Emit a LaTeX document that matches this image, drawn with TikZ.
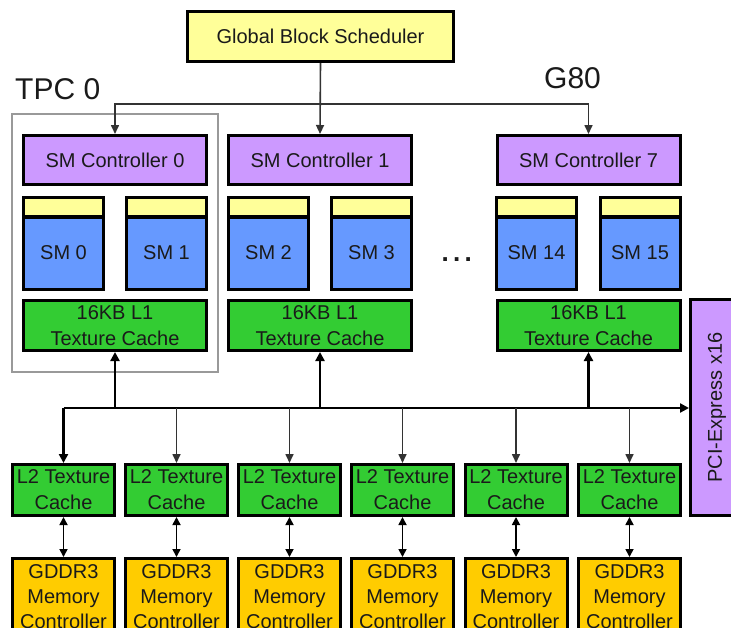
\documentclass[tikz,border=0pt]{standalone}
\usepackage{fontspec}
\setmainfont{Liberation Sans}
\usetikzlibrary{arrows.meta}
\definecolor{schedY}{HTML}{FFFF99}
\definecolor{ctrlP}{HTML}{CC99FF}
\definecolor{smB}{HTML}{6699FF}
\definecolor{cacheG}{HTML}{33CC33}
\definecolor{memO}{HTML}{FFCC00}
\definecolor{txt}{HTML}{1A1A1A}
\definecolor{lineG}{HTML}{333333}
\tikzset{
  box/.style={draw=black, line width=3pt, inner sep=0pt, text=txt, align=center,
    font=\fontsize{20}{26}\selectfont},
  sched/.style={box, fill=schedY, minimum width=266pt, minimum height=50pt},
  smc/.style={box, fill=ctrlP, minimum width=183pt, minimum height=49pt},
  smtop/.style={box, fill=schedY, minimum width=80pt, minimum height=19pt},
  smbody/.style={box, fill=smB, minimum width=80pt, minimum height=72pt},
  lone/.style={box, fill=cacheG, minimum width=183pt, minimum height=50pt},
  ltwo/.style={box, fill=cacheG, minimum width=102pt, minimum height=51pt},
  memc/.style={box, fill=memO, minimum width=102pt, anchor=north, inner ysep=6pt,
    font=\fontsize{20}{25}\selectfont},
  pcibox/.style={box, fill=ctrlP, minimum width=53pt, minimum height=216pt},
  conn/.style={draw=lineG, line width=1.6pt, -{Triangle[length=9pt,width=8pt]}},
  bus/.style={draw=black, line width=2.4pt},
  busarrow/.style={bus, -{Triangle[length=9pt,width=9pt]}},
  dbl/.style={draw=black, line width=1.7pt, {Triangle[length=8pt,width=8pt]}-{Triangle[length=8pt,width=8pt]}},
  biglabel/.style={inner sep=0pt, anchor=base west, text=txt, font=\fontsize{30}{36}\selectfont},
}
\begin{document}
\begin{tikzpicture}[x=1pt,y=-1pt]
\useasboundingbox (0,0) rectangle (731,627);
\clip (0,0) rectangle (731,627);
% labels
\node[biglabel] (tpclabel) at (15,99) {TPC 0};
\node[biglabel] (g80label) at (544,88) {G80};
% TPC frame
\draw[draw=gray!80, line width=1.2pt] (12,114) rectangle (218,372);
% scheduler
\node[sched] (sched) at (320.5,36.5) {Global Block Scheduler};
% SM controllers
\node[smc] (smc0) at (115,160) {SM Controller 0};
\node[smc] (smc1) at (320,160) {SM Controller 1};
\node[smc] (smc7) at (588.5,160) {SM Controller 7};
% SMs
\foreach \n/\x in {0/63.5,1/166.5,2/268.5,3/371.5,14/536.5,15/640}{
  \node[smtop] (smt\n) at (\x,206.5) {};
  \node[smbody] (sm\n) at (\x,253) {SM \n};
}
\node[inner sep=0pt, text=txt, font=\fontsize{26}{26}\selectfont\bfseries] (dots) at (456.7,260) {.\,.\,.};
% L1 caches
\node[lone] (l1a) at (115,325.5) {16KB L1\\Texture Cache};
\node[lone] (l1b) at (320,325.5) {16KB L1\\Texture Cache};
\node[lone] (l1c) at (588.5,325.5) {16KB L1\\Texture Cache};
% PCI
\node[pcibox] (pci) at (717,407.5) {};
\node[rotate=90, inner sep=0pt, text=txt, font=\fontsize{20}{24}\selectfont] (pcitext) at (717,407.5) {PCI-Express x16};
% L2 and memory controllers
\foreach \i/\x in {1/63.5,2/176.5,3/289.5,4/402.5,5/516,6/629.5}{
  \node[ltwo] (l2\i) at (\x,490) {L2 Texture\\Cache};
  \node[memc] (mc\i) at (\x,557) {GDDR3\\Memory\\Controller};
  \draw[dbl] (l2\i.south) -- (mc\i.north);
}
% scheduler distribution
\coordinate (split) at (320,104);
\draw[conn] (sched.south) -- (smc1.north);
\draw[conn] (split) -| (smc0.north);
\draw[conn] (split) -| (smc7.north);
% bus
\coordinate (busL) at (63.5,408);
\draw[busarrow] (busL) -- (pci.west |- busL);
\draw[busarrow] (busL) -- (l21.north);
\foreach \c in {l1a,l1b,l1c}{
  \draw[busarrow] (\c.south |- busL) -- (\c.south);
}
\foreach \i in {2,3,4,5,6}{
  \draw[conn] (l2\i.north |- busL) -- (l2\i.north);
}
\end{tikzpicture}
\end{document}
